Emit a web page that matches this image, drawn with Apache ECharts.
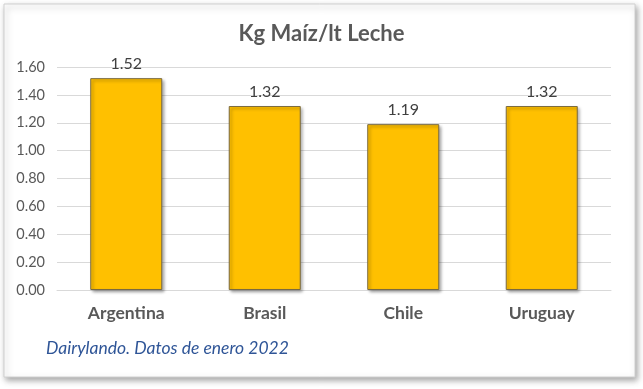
<!DOCTYPE html>
<html><head><meta charset="utf-8">
<script src="https://cdn.jsdelivr.net/npm/echarts@6/dist/echarts.min.js"></script>
<style>html,body{margin:0;padding:0;background:#fff}#c{width:643px;height:389px}</style>
</head><body><div id="c"></div>
<script>
const categories = ['Argentina', 'Brasil', 'Chile', 'Uruguay'];
const values = [1.52, 1.32, 1.19, 1.32];
const yTicks = [0, 0.2, 0.4, 0.6, 0.8, 1.0, 1.2, 1.4, 1.6];
const titleText = 'Kg Maíz/lt Leche';
const noteText = 'Dairylando. Datos de enero 2022';

const chart = echarts.init(document.getElementById('c'));
const font = 'Lato, "Open Sans", sans-serif';
chart.setOption({
  animation: false,
  backgroundColor: '#fff',
  graphic: [
    { type: 'rect', shape: { x: 4, y: 4, width: 631, height: 373 }, z: -10,
      style: { fill: '#fff', stroke: '#d0d0d0', lineWidth: 1, shadowBlur: 6, shadowOffsetX: 2, shadowOffsetY: 3, shadowColor: 'rgba(0,0,0,0.35)' } },
    { type: 'text', left: 46, top: 339,
      style: { text: noteText, fill: '#2F5597', font: 'italic 17.5px ' + font } }
  ],
  title: {
    text: titleText, left: 'center', top: 18,
    textStyle: { fontFamily: font, fontSize: 22, fontWeight: 'bold', color: '#595959' }
  },
  grid: { left: 57, right: 32, top: 67, bottom: 99, containLabel: false },
  xAxis: {
    type: 'category', data: categories,
    axisLine: { lineStyle: { color: '#d9d9d9' } },
    axisTick: { show: false },
    axisLabel: { fontFamily: font, fontSize: 17.5, fontWeight: 'bold', color: '#595959', margin: 14 }
  },
  yAxis: {
    type: 'value', min: yTicks[0], max: yTicks[yTicks.length - 1], interval: 0.2,
    axisLine: { show: false }, axisTick: { show: false },
    splitLine: { lineStyle: { color: '#d9d9d9' } },
    axisLabel: { fontFamily: font, fontSize: 14.5, color: '#595959', margin: 12,
      formatter: v => v.toFixed(2) }
  },
  series: [{
    type: 'bar', data: values, barWidth: '52%',
    itemStyle: { color: '#FFC000', borderColor: '#7a6a40', borderWidth: 1,
      shadowBlur: 3, shadowOffsetX: 2, shadowOffsetY: 2, shadowColor: 'rgba(0,0,0,0.35)' },
    label: { show: true, position: 'top', distance: 6, fontFamily: font, fontSize: 16, color: '#404040',
      formatter: p => p.value.toFixed(2) }
  }]
});
</script></body></html>
